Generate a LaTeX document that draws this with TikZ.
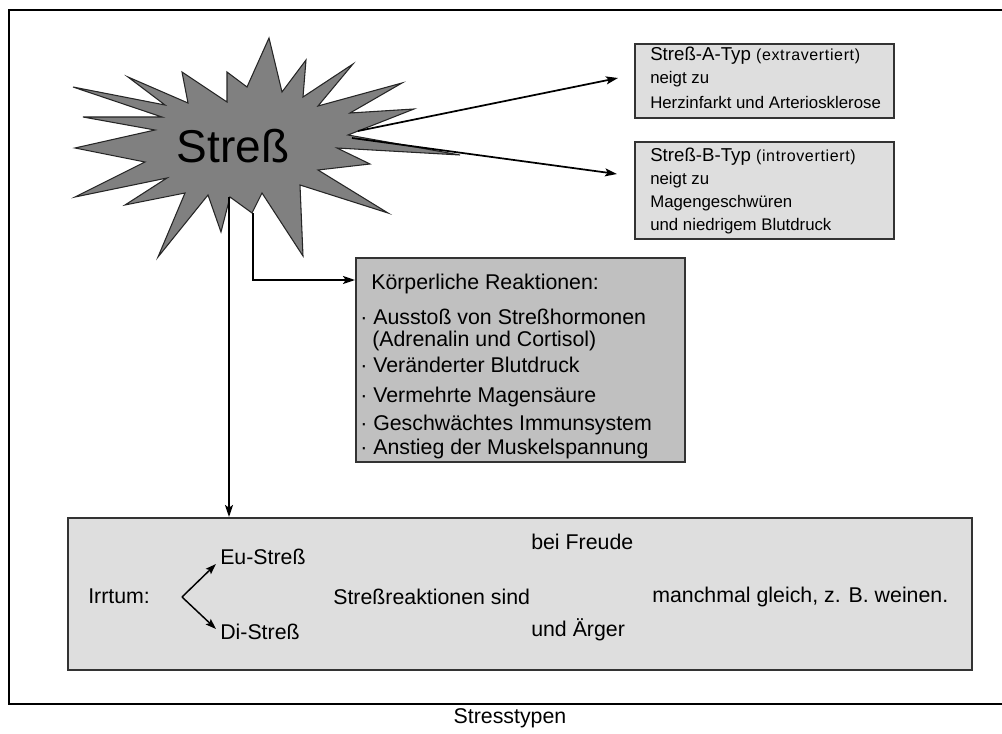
\documentclass[tikz,border=0pt]{standalone}
\usepackage{fontspec}
\setmainfont{Liberation Sans}
\newfontfamily\spacedfont[LetterSpace=4]{Liberation Sans}
\usetikzlibrary{arrows.meta,calc}
\definecolor{lightbox}{HTML}{DEDEDE}
\definecolor{midbox}{HTML}{C0C0C0}
\definecolor{burst}{HTML}{808080}
\definecolor{edge}{HTML}{333333}
\begin{document}
\begin{tikzpicture}[x=0.75pt,y=-0.75pt,
  arr/.style={line width=1.3pt,-{Stealth[length=9pt,width=6pt,inset=2pt]}},
  boxstyle/.style={draw=edge,line width=1.2pt,inner sep=0pt,anchor=north west},
  txt/.style={anchor=west,inner sep=0pt,font=\fontsize{12.6}{14}\selectfont},
  head/.style={anchor=west,inner sep=0pt,font=\fontsize{14}{16}\selectfont},
  ktxt/.style={anchor=west,inner sep=0pt,font=\fontsize{16}{19}\selectfont},
  btxt/.style={anchor=west,inner sep=0pt,font=\fontsize{16}{19}\selectfont},
]
\useasboundingbox (0,0) rectangle (1002,734);
% frame
\draw[line width=2.2pt] (1002,10) -- (9,10) -- (9,704) -- (1002,704);

% starburst
\filldraw[fill=burst,draw=black!85,line width=0.8pt,line join=miter]
 (269,38) -- (282,92) -- (306,60) -- (303,97) -- (353,64) -- (318,106) -- (402,83) -- (350,113)
 -- (414,109) -- (348,135) -- (460,155) -- (337,148) -- (370,164) -- (318,170) -- (388,213)
 -- (300,185) -- (303,256) -- (262,193) -- (252,213) -- (230,197) -- (221,232) -- (208,195)
 -- (158,257) -- (185,193) -- (125,205) -- (167,178) -- (75,197) -- (145,162) -- (75,148)
 -- (155,130) -- (83,117) -- (162,117) -- (73,87) -- (165,105) -- (128,77) -- (188,103)
 -- (182,72) -- (227,102) -- (227,72) -- (247,87) -- cycle;
\node[inner sep=0pt,font=\fontsize{34.5}{40}\selectfont] (stress) at (233,146) {Streß};

% named connector ends on the starburst
\coordinate (sA) at (358,131);
\coordinate (sB) at (352,138);
\coordinate (sD) at (229,197);
\coordinate (sK) at (253,213);
\coordinate (eA) at (618,78);
\coordinate (eB) at (617,174);

% box A
\node[boxstyle,fill=lightbox,minimum width=194.25pt,minimum height=55.5pt] (boxA) at (634,43) {};
\node[head] (a1) at (650,56) {Streß-A-Typ {\spacedfont\fontsize{12}{13}\selectfont (extravertiert)}};
\node[txt] (a2) at (650,79) {neigt zu};
\node[txt] (a3) at (650,102) {Herzinfarkt und Arteriosklerose};

% box B
\node[boxstyle,fill=lightbox,minimum width=194.25pt,minimum height=72.75pt] (boxB) at (634,141) {};
\node[head] (b1) at (650,157) {Streß-B-Typ {\spacedfont\fontsize{12}{13}\selectfont (introvertiert)}};
\node[txt] (b2) at (650,180) {neigt zu};
\node[txt] (b3) at (650,203) {Magengeschwüren};
\node[txt] (b4) at (650,226) {und niedrigem Blutdruck};

% Koerperliche Reaktionen
\node[boxstyle,fill=midbox,minimum width=246.75pt,minimum height=153pt] (koerper) at (355,257) {};
\node[ktxt] (k0) at (371,284) {Körperliche Reaktionen:};
\node[ktxt] (k1) at (360,317) {· Ausstoß von Streßhormonen};
\node[ktxt] (k2) at (372,341) {(Adrenalin und Cortisol)};
\node[ktxt] (k3) at (360,365) {· Veränderter Blutdruck};
\node[ktxt] (k4) at (360,397) {· Vermehrte Magensäure};
\node[ktxt] (k5) at (360,425) {· Geschwächtes Immunsystem};
\node[ktxt] (k6) at (360,449) {· Anstieg der Muskelspannung};

% Irrtum box
\node[boxstyle,fill=lightbox,line width=1.5pt,minimum width=678pt,minimum height=114pt] (irr) at (67,517) {};
\node[btxt] (irrtum) at (88,596) {Irrtum:};
\node[btxt] (eu) at (220,557) {Eu-Streß};
\node[btxt] (di) at (220,632) {Di-Streß};
\node[btxt] (reak) at (333,597) {Streßreaktionen sind};
\node[btxt] (freude) at (531,542) {bei Freude};
\node[btxt] (aerger) at (531,630) {und Ärger};
\node[btxt] (gleich) at (652,597) {manchmal gleich, z. B. weinen.};
\coordinate (fork) at (182,597);
\coordinate (eEu) at (216,564);
\coordinate (eDi) at (216,629);

% caption
\node[inner sep=0pt,font=\fontsize{16}{19}\selectfont] (caption) at (510,718) {Stresstypen};

% connectors
\draw[arr] (sA) -- (eA);
\draw[arr] (sB) -- (eB);
\draw[arr] (sD) -- (sD |- irr.north);
\draw[arr] (sK) |- ($(koerper.north west)+(0,23)$);
\draw[line width=1.1pt,-{Stealth[length=8pt,width=5.5pt,inset=1.5pt]}] (fork) -- (eEu);
\draw[line width=1.1pt,-{Stealth[length=8pt,width=5.5pt,inset=1.5pt]}] (fork) -- (eDi);
\end{tikzpicture}
\end{document}
